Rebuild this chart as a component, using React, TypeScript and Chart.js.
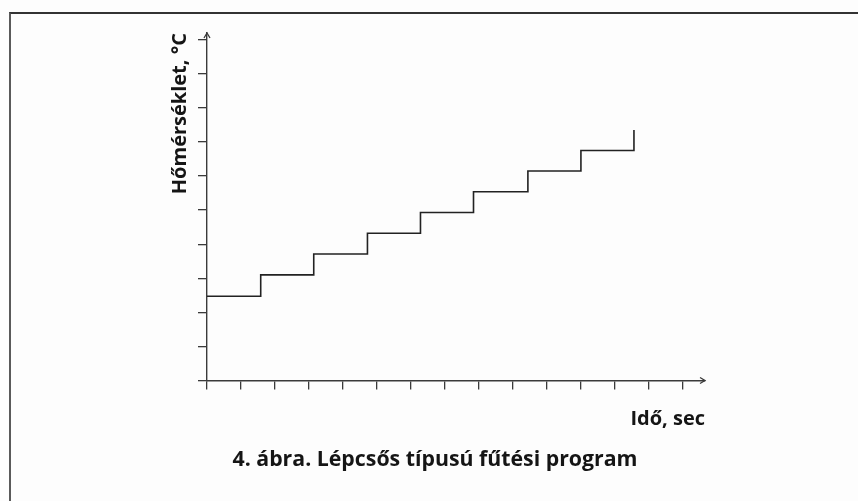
import React, { useEffect, useRef } from "react";
import { Chart, registerables } from "chart.js";

Chart.register(...registerables);

// Step program: time breakpoints (x) and temperature levels (y), in axis tick units
const timeBreaks = [0, 1.58, 3.14, 4.72, 6.28, 7.84, 9.44, 11.0, 12.56];
const tempLevels = [2.47, 3.1, 3.71, 4.32, 4.93, 5.54, 6.15, 6.75, 7.35];

const yTitle = "Hőmérséklet, °C";
const xTitle = "Idő, sec";
const caption = "4. ábra. Lépcsős típusú fűtési program";

const xMax = 14.65;
const yMax = 10.2;

const FONT = "'Open Sans', 'Noto Sans', sans-serif";
const AXIS_COLOR = "#3a3a3a";

const arrowPlugin = {
  id: "axisArrows",
  afterDraw(chart: any) {
    const { ctx, chartArea } = chart;
    ctx.save();
    ctx.strokeStyle = AXIS_COLOR;
    ctx.lineWidth = 1.3;
    ctx.beginPath();
    ctx.moveTo(chartArea.right - 5, chartArea.bottom - 3);
    ctx.lineTo(chartArea.right, chartArea.bottom);
    ctx.lineTo(chartArea.right - 5, chartArea.bottom + 3);
    ctx.stroke();
    ctx.beginPath();
    ctx.moveTo(chartArea.left - 3, chartArea.top + 5);
    ctx.lineTo(chartArea.left, chartArea.top);
    ctx.lineTo(chartArea.left + 3, chartArea.top + 5);
    ctx.stroke();
    ctx.restore();
  },
};

const intOnly = (axis: any) => {
  axis.ticks = axis.ticks
    .filter((t: any) => Math.abs(t.value - Math.round(t.value)) < 1e-6)
    .map((t: any) => ({ ...t, value: Math.round(t.value) }));
};

export default function App() {
  const ref = useRef<HTMLCanvasElement | null>(null);

  useEffect(() => {
    if (!ref.current) return;
    const points = timeBreaks.map((x, i) => ({ x, y: tempLevels[i] }));
    const chart = new Chart(ref.current, {
      type: "line",
      data: {
        datasets: [
          {
            data: points,
            stepped: "before",
            borderColor: "#222",
            borderWidth: 1.6,
            pointRadius: 0,
            fill: false,
            clip: false as any,
          },
        ],
      },
      options: {
        animation: false,
        responsive: false,
        layout: { padding: { left: 165, right: 153, top: 33, bottom: 10 } },
        plugins: {
          legend: { display: false },
          tooltip: { enabled: false },
          title: {
            display: true,
            position: "bottom",
            text: caption,
            color: "#151515",
            font: { family: FONT, size: 21.3, weight: "bold" },
            padding: { top: 15.5, bottom: 18.5 },
          },
        },
        scales: {
          x: {
            type: "linear",
            min: 0,
            max: xMax,
            afterBuildTicks: intOnly,
            afterFit: (s: any) => {
              s.height = 51;
            },
            ticks: { stepSize: 1, display: false, includeBounds: false },
            grid: {
              drawOnChartArea: false,
              drawTicks: true,
              tickLength: 9,
              tickColor: AXIS_COLOR,
              lineWidth: 1.3,
            },
            border: { display: true, color: AXIS_COLOR, width: 1.4 },
            title: {
              display: true,
              text: xTitle,
              align: "end",
              color: "#151515",
              font: { family: FONT, size: 20, weight: "bold" },
              padding: { top: 0, bottom: 0 },
            },
          },
          y: {
            type: "linear",
            min: 0,
            max: yMax,
            afterBuildTicks: intOnly,
            afterFit: (s: any) => {
              s.width = 42;
            },
            ticks: { stepSize: 1, display: false, includeBounds: false },
            grid: {
              drawOnChartArea: false,
              drawTicks: true,
              tickLength: 9,
              tickColor: AXIS_COLOR,
              lineWidth: 1.3,
            },
            border: { display: true, color: AXIS_COLOR, width: 1.4 },
            title: {
              display: true,
              text: yTitle,
              align: "end",
              color: "#151515",
              font: { family: FONT, size: 20, weight: "bold" },
              padding: { top: 3, bottom: 0 },
            },
          },
        },
      },
      plugins: [arrowPlugin],
    });
    return () => chart.destroy();
  }, []);

  return (
    <div
      style={{
        position: "absolute",
        left: 0,
        top: 0,
        width: 858,
        height: 501,
        background: "#fdfdfd",
        overflow: "hidden",
      }}
    >
      <div
        style={{
          position: "absolute",
          left: 9,
          top: 12,
          right: -2,
          bottom: -2,
          borderLeft: "2px solid #5a5a5a",
          borderTop: "2px solid #333",
        }}
      />
      <canvas
        ref={ref}
        width={858}
        height={501}
        style={{ position: "absolute", left: 0, top: 0, width: 858, height: 501 }}
      />
    </div>
  );
}
